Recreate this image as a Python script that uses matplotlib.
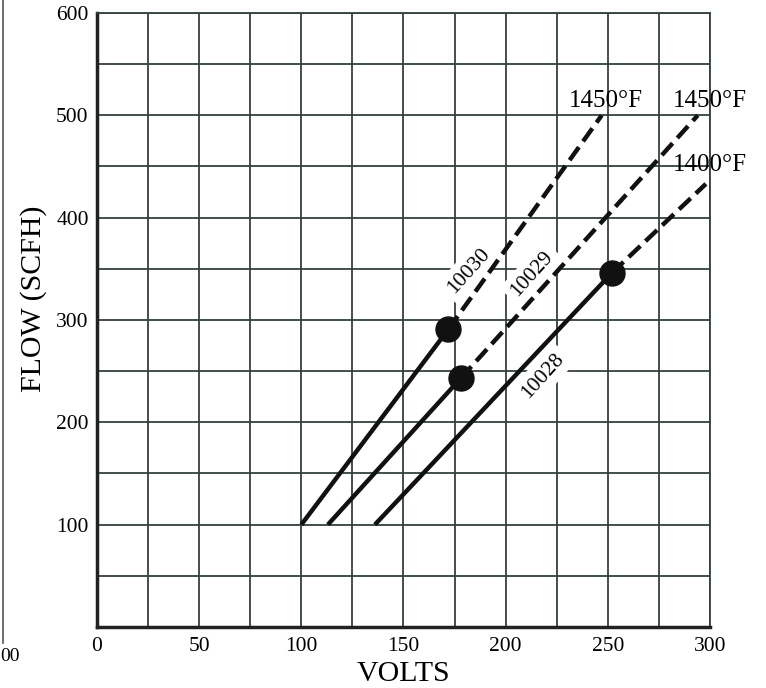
import matplotlib.pyplot as plt
from matplotlib.lines import Line2D

# curve data: start, operating point (dot), end of dashed part
volts_10030 = [100, 172, 247]
flow_10030 = [100, 291, 500]
volts_10029 = [113, 178, 294]
flow_10029 = [100, 243, 500]
volts_10028 = [136, 252, 298]
flow_10028 = [100, 346, 433]

curve_names = ["10030", "10029", "10028"]
temp_labels = ["1450°F", "1450°F", "1400°F"]

x_ticks = [0, 50, 100, 150, 200, 250, 300]
y_ticks = [100, 200, 300, 400, 500, 600]


def main() -> None:
    plt.rcParams["font.family"] = ["Liberation Serif", "DejaVu Serif"]
    fig = plt.figure(figsize=(7.66, 6.88), dpi=100)
    ax = fig.add_axes([0.1266, 0.0887, 0.8003, 0.8924])

    grid_c = "#344040"
    ax.set_xlim(0, 300)
    ax.set_ylim(0, 600)
    ax.set_xticks(range(0, 301, 25))
    ax.set_yticks(range(0, 601, 50))
    ax.set_xticklabels([str(v) if v in x_ticks else "" for v in range(0, 301, 25)])
    ax.set_yticklabels([str(v) if v in y_ticks else "" for v in range(0, 601, 50)])
    ax.tick_params(length=0, labelsize=15.5)
    ax.tick_params(axis="x", pad=7)
    ax.tick_params(axis="y", pad=6)
    ax.grid(True, color=grid_c, linewidth=1.3, zorder=0)
    ax.set_axisbelow(True)
    for side in ["top", "right"]:
        ax.spines[side].set_color(grid_c)
        ax.spines[side].set_linewidth(1.3)
    for side in ["left", "bottom"]:
        ax.spines[side].set_color("#222222")
        ax.spines[side].set_linewidth(2.5)

    curves = [(volts_10030, flow_10030), (volts_10029, flow_10029), (volts_10028, flow_10028)]
    for vx, fy in curves:
        ax.plot(vx[:2], fy[:2], color="#111111", lw=3.2, solid_capstyle="butt", zorder=4)
        ax.plot(vx[1:], fy[1:], color="#111111", lw=3.2, dashes=(3.6, 1.6), zorder=4)
        ax.plot(vx[1], fy[1], "o", color="#111111", ms=18, zorder=5)

    # curve name labels with white box
    name_pos = [(182, 348), (213, 345), (218, 245)]
    for name, (px, py) in zip(curve_names, name_pos):
        ax.text(px, py, name, rotation=48, ha="center", va="center", fontsize=15.5,
                bbox=dict(facecolor="white", edgecolor="none", pad=4), zorder=3)

    temp_pos = [(249, 514), (300, 514), (300, 451)]
    for lab, (px, py) in zip(temp_labels, temp_pos):
        ax.text(px, py, lab, ha="center", va="center", fontsize=18, zorder=6)

    ax.set_xlabel("VOLTS", fontsize=21.5)
    ax.set_ylabel("FLOW (SCFH)", fontsize=21.5)
    ax.xaxis.set_label_coords(0.5, -0.056)
    ax.yaxis.set_label_coords(-0.082, 0.535)

    # fragment of the neighbouring figure at the left edge
    fig.add_artist(Line2D([0.004, 0.004], [0.065, 1.0], color="#555555", lw=1.2))
    fig.text(0.0, 0.046, "00", fontsize=14, ha="left", va="center")

    fig.savefig("out.png", dpi=100)


if __name__ == "__main__":
    main()
